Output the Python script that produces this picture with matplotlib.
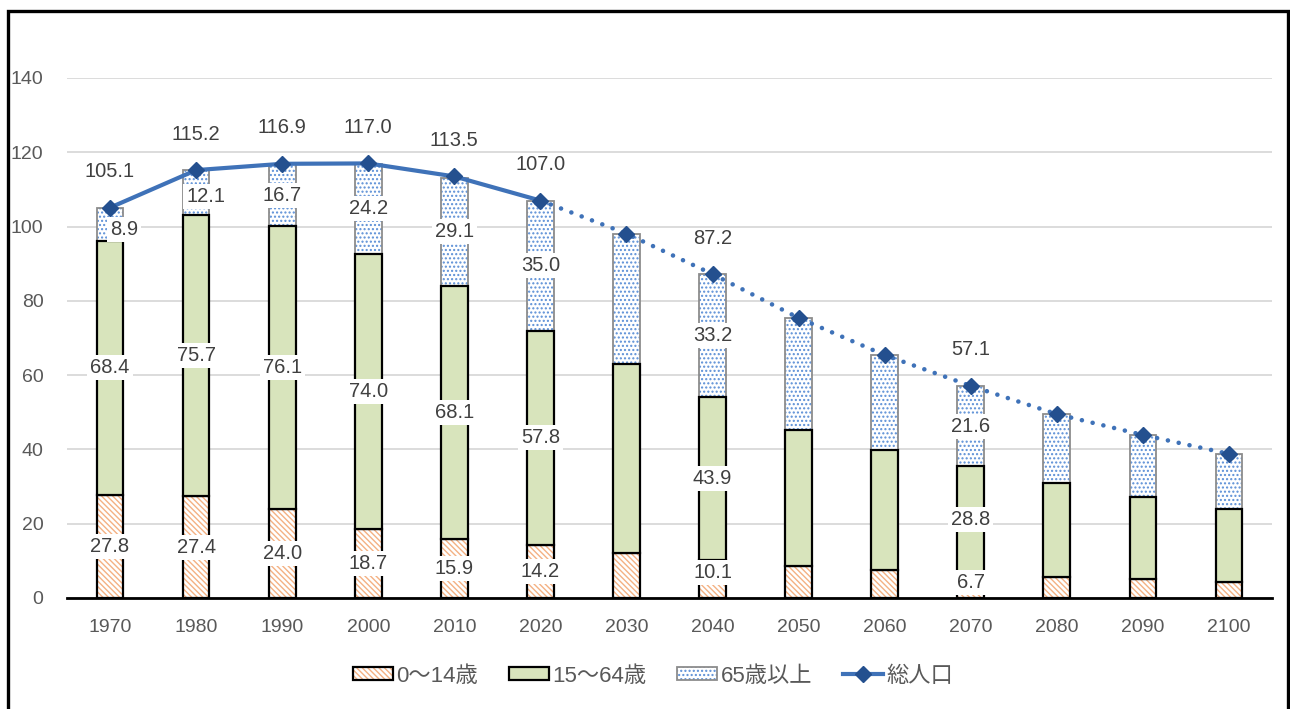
import matplotlib
matplotlib.use("Agg")
import matplotlib.pyplot as plt
from matplotlib.patches import Patch, Rectangle
from matplotlib.lines import Line2D
from matplotlib.legend_handler import HandlerTuple
import numpy as np

plt.rcParams['font.family'] = ['Liberation Sans', 'Noto Sans CJK JP', 'DejaVu Sans']
plt.rcParams['hatch.linewidth'] = 1.0

# Population by age group (millions of persons)
years = ["1970", "1980", "1990", "2000", "2010", "2020", "2030",
         "2040", "2050", "2060", "2070", "2080", "2090", "2100"]
age_0_14 = [27.8, 27.4, 24.0, 18.7, 15.9, 14.2, 12.0,
            10.1, 8.6, 7.5, 6.7, 5.7, 5.0, 4.3]
age_15_64 = [68.4, 75.7, 76.1, 74.0, 68.1, 57.8, 51.0,
             43.9, 36.6, 32.3, 28.8, 25.3, 22.1, 19.6]
age_65_plus = [8.9, 12.1, 16.7, 24.2, 29.1, 35.0, 35.1,
               33.2, 30.2, 25.6, 21.6, 18.5, 16.8, 14.9]
total = [105.1, 115.2, 116.9, 117.0, 113.5, 107.0, 98.1,
         87.2, 75.4, 65.4, 57.1, 49.5, 43.9, 38.8]

# Which years carry value labels
labeled_years = ["1970", "1980", "1990", "2000", "2010", "2020", "2040", "2070"]
legend_labels = ["0～14歳", "15～64歳", "65歳以上", "総人口"]
last_actual = "2020"

ORANGE = "#f4b183"
GREEN = "#d8e4bc"
DOTBLUE = "#5b8fd6"
LINE = "#3f72b8"
MARK = "#24508f"
TXT = "#404040"
HATCH_YOUNG = "\\\\\\\\\\\\"
HATCH_OLD = "...."

fig = plt.figure(figsize=(12.9, 7.09), dpi=100)
ax = fig.add_axes([67 / 1290, 1 - 598 / 709, (1272 - 67) / 1290, (598 - 78) / 709])

x = np.arange(len(years))
w = 0.31
y0 = np.array(age_0_14)
y1 = np.array(age_15_64)
y2 = np.array(age_65_plus)

# 0-14: orange hatch, black outline
ax.bar(x, y0, w, color="white", edgecolor=ORANGE, hatch=HATCH_YOUNG, linewidth=0, zorder=2)
ax.bar(x, y0, w, fill=False, edgecolor="black", linewidth=1.6, zorder=3)
# 15-64: green, black outline
ax.bar(x, y1, w, bottom=y0, color=GREEN, edgecolor="black", linewidth=1.6, zorder=3)
# 65+: blue dots, grey outline
ax.bar(x, y2, w, bottom=y0 + y1, color="white", edgecolor=DOTBLUE, hatch=HATCH_OLD, linewidth=0, zorder=2)
ax.bar(x, y2, w, bottom=y0 + y1, fill=False, edgecolor="#8c8c8c", linewidth=1.3, zorder=2.5)

# Total population line: solid for actual, dotted for projection
split = years.index(last_actual)
ax.plot(x[:split + 1], total[:split + 1], color=LINE, lw=3.0, zorder=5,
        solid_capstyle="round")
ax.plot(x[split:], total[split:], color=LINE, lw=3.3, zorder=5,
        linestyle=(0, (0.01, 2.4)), dash_capstyle="round")
ax.plot(x, total, linestyle="none", marker="D", ms=8, color=MARK, zorder=6)

box = dict(boxstyle="square,pad=0.15", fc="white", ec="none")
lab_kw = dict(ha="center", va="center", fontsize=14.5, color=TXT, zorder=7)
nudge_65 = {"1970": (10, -4), "1980": (7, -3)}
nudge_0 = {"2040": (0, 5), "2070": (0, 2)}

for i, yr in enumerate(years):
    if yr not in labeled_years:
        continue
    ax.annotate(f"{total[i]:.1f}", (x[i], total[i]), xytext=(0, 26),
                textcoords="offset points", **lab_kw)
    ax.annotate(f"{age_0_14[i]:.1f}", (x[i], y0[i] / 2),
                xytext=nudge_0.get(yr, (0, 0)), textcoords="offset points",
                bbox=box, **lab_kw)
    ax.annotate(f"{age_15_64[i]:.1f}", (x[i], y0[i] + y1[i] / 2),
                xytext=(0, 0), textcoords="offset points", bbox=box, **lab_kw)
    ax.annotate(f"{age_65_plus[i]:.1f}", (x[i], y0[i] + y1[i] + y2[i] / 2),
                xytext=nudge_65.get(yr, (0, 0)), textcoords="offset points",
                bbox=box, **lab_kw)

ax.set_xlim(-0.5, len(years) - 0.5)
ax.set_ylim(0, 140)
ax.set_yticks(np.arange(0, 141, 20))
ax.set_xticks(x)
ax.set_xticklabels(years)
ax.yaxis.grid(True, color="#d9d9d9", lw=1.3, zorder=0)
ax.set_axisbelow(True)
for s in ["top", "right", "left"]:
    ax.spines[s].set_visible(False)
ax.spines["bottom"].set_color("black")
ax.spines["bottom"].set_linewidth(2.0)
ax.spines["bottom"].set_zorder(8)
ax.tick_params(axis="both", length=0, labelsize=14, labelcolor="#595959")
ax.tick_params(axis="y", pad=17)
ax.tick_params(axis="x", pad=15)

# Legend
h0 = (Patch(facecolor="white", edgecolor=ORANGE, hatch=HATCH_YOUNG, linewidth=0),
      Patch(fill=False, edgecolor="black", linewidth=1.6))
h1 = Patch(facecolor=GREEN, edgecolor="black", linewidth=1.6)
h2 = (Patch(facecolor="white", edgecolor=DOTBLUE, hatch=HATCH_OLD, linewidth=0),
      Patch(fill=False, edgecolor="#8c8c8c", linewidth=1.3))
h3 = Line2D([], [], color=LINE, lw=3.0, marker="D", ms=8, mfc=MARK, mec=MARK)
fig.legend([h0, h1, h2, h3], legend_labels,
           handler_map={tuple: HandlerTuple(ndivide=1, pad=0)},
           loc="center", bbox_to_anchor=(653 / 1290, 1 - 676 / 709),
           ncol=4, frameon=False, fontsize=16, labelcolor="#595959",
           handlelength=1.8, handleheight=0.55, handletextpad=0.15,
           columnspacing=1.4)

# Outer frame
fig.patches.append(Rectangle((8 / 1290, -0.02), (1288 - 8) / 1290, 0.02 + 1 - 11 / 709,
                             transform=fig.transFigure, fill=False,
                             edgecolor="black", lw=2.4, zorder=10))

fig.savefig("out.png", dpi=100)
